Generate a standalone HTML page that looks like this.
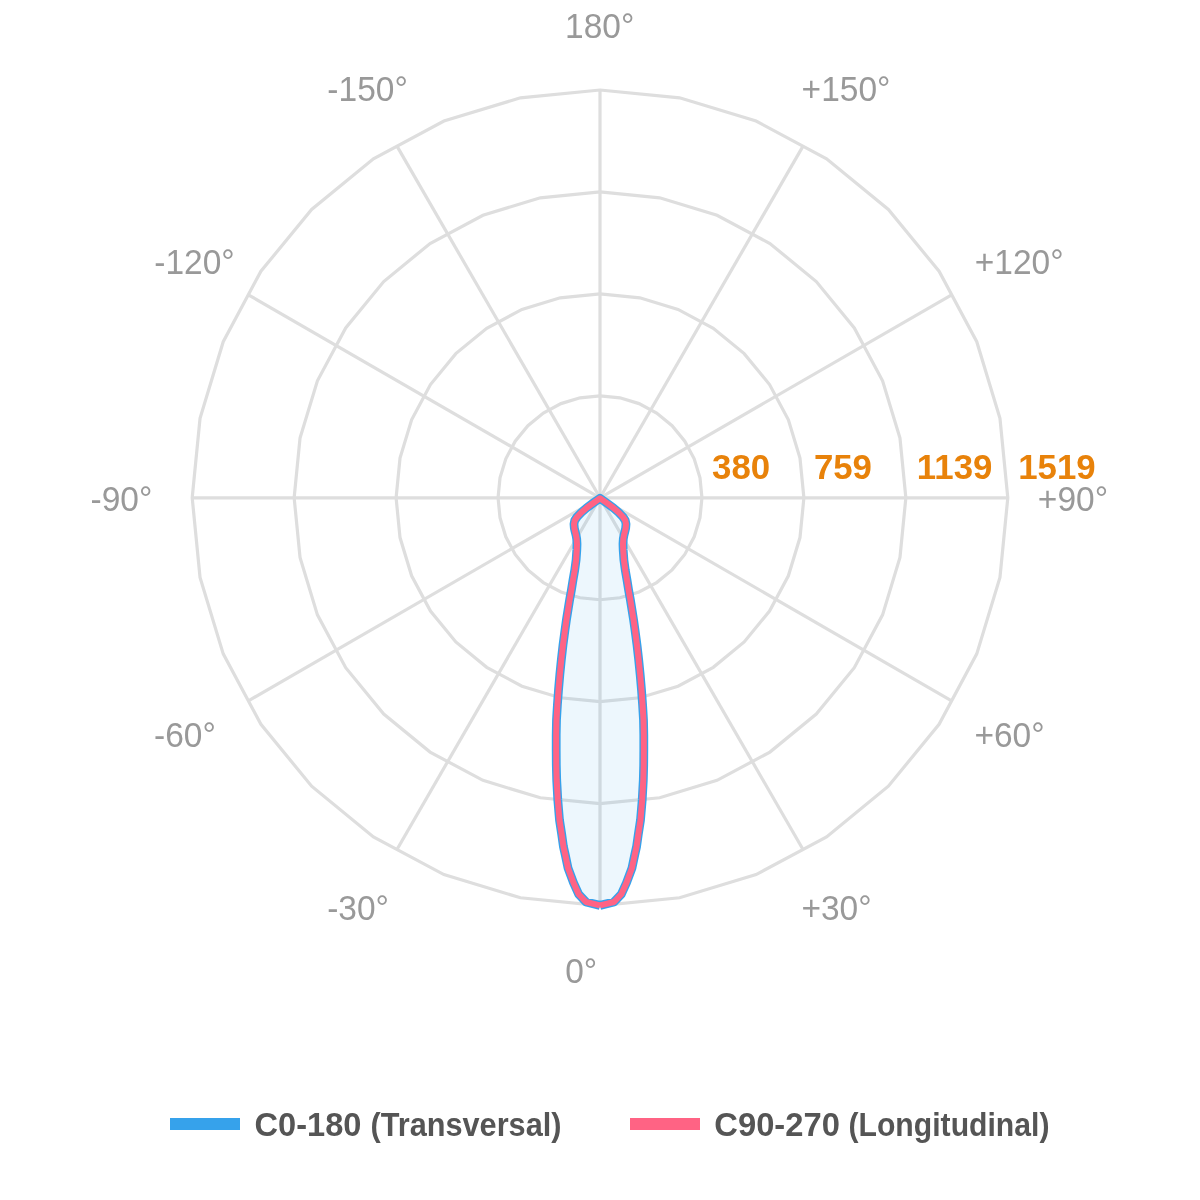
<!DOCTYPE html>
<html><head><meta charset="utf-8"><title>Polar chart</title>
<style>
html,body{margin:0;padding:0;background:#fff;}
body{width:1200px;height:1200px;overflow:hidden;}
svg{display:block;font-family:"Liberation Sans",sans-serif;}
#w{will-change:transform;width:1200px;height:1200px;}
</style></head><body><div id="w">
<svg width="1200" height="1200" viewBox="0 0 1200 1200">
<rect width="1200" height="1200" fill="#ffffff"/>
<polygon points="600.00,395.85 619.89,397.81 639.01,403.61 656.64,413.03 672.09,425.71 684.77,441.16 694.19,458.79 699.99,477.91 701.95,497.80 699.99,517.69 694.19,536.81 684.77,554.44 672.09,569.89 656.64,582.57 639.01,591.99 619.89,597.79 600.00,599.75 580.11,597.79 560.99,591.99 543.36,582.57 527.91,569.89 515.23,554.44 505.81,536.81 500.01,517.69 498.05,497.80 500.01,477.91 505.81,458.79 515.23,441.16 527.91,425.71 543.36,413.03 560.99,403.61 580.11,397.81" fill="none" stroke="#dedede" stroke-width="3.2" stroke-linejoin="miter"/>
<polygon points="600.00,293.90 639.78,297.82 678.03,309.42 713.28,328.26 744.18,353.62 769.54,384.52 788.38,419.77 799.98,458.02 803.90,497.80 799.98,537.58 788.38,575.83 769.54,611.08 744.18,641.98 713.28,667.34 678.03,686.18 639.78,697.78 600.00,701.70 560.22,697.78 521.97,686.18 486.72,667.34 455.82,641.98 430.46,611.08 411.62,575.83 400.02,537.58 396.10,497.80 400.02,458.02 411.62,419.77 430.46,384.52 455.82,353.62 486.72,328.26 521.97,309.42 560.22,297.82" fill="none" stroke="#dedede" stroke-width="3.2" stroke-linejoin="miter"/>
<polygon points="600.00,191.95 659.67,197.83 717.04,215.23 769.92,243.50 816.27,281.53 854.30,327.88 882.57,380.76 899.97,438.13 905.85,497.80 899.97,557.47 882.57,614.84 854.30,667.72 816.27,714.07 769.92,752.10 717.04,780.37 659.67,797.77 600.00,803.65 540.33,797.77 482.96,780.37 430.08,752.10 383.73,714.07 345.70,667.72 317.43,614.84 300.03,557.47 294.15,497.80 300.03,438.13 317.43,380.76 345.70,327.88 383.73,281.53 430.08,243.50 482.96,215.23 540.33,197.83" fill="none" stroke="#dedede" stroke-width="3.2" stroke-linejoin="miter"/>
<polygon points="600.00,90.00 679.56,97.84 756.06,121.04 826.56,158.73 888.36,209.44 939.07,271.24 976.76,341.74 999.96,418.24 1007.80,497.80 999.96,577.36 976.76,653.86 939.07,724.36 888.36,786.16 826.56,836.87 756.06,874.56 679.56,897.76 600.00,905.60 520.44,897.76 443.94,874.56 373.44,836.87 311.64,786.16 260.93,724.36 223.24,653.86 200.04,577.36 192.20,497.80 200.04,418.24 223.24,341.74 260.93,271.24 311.64,209.44 373.44,158.73 443.94,121.04 520.44,97.84" fill="none" stroke="#dedede" stroke-width="3.2" stroke-linejoin="miter"/>
<line x1="600.00" y1="497.80" x2="600.00" y2="90.00" stroke="#dedede" stroke-width="3.2"/>
<line x1="600.00" y1="497.80" x2="803.03" y2="146.15" stroke="#dedede" stroke-width="3.2"/>
<line x1="600.00" y1="497.80" x2="951.65" y2="294.77" stroke="#dedede" stroke-width="3.2"/>
<line x1="600.00" y1="497.80" x2="1007.80" y2="497.80" stroke="#dedede" stroke-width="3.2"/>
<line x1="600.00" y1="497.80" x2="951.65" y2="700.83" stroke="#dedede" stroke-width="3.2"/>
<line x1="600.00" y1="497.80" x2="803.03" y2="849.45" stroke="#dedede" stroke-width="3.2"/>
<line x1="600.00" y1="497.80" x2="600.00" y2="905.60" stroke="#dedede" stroke-width="3.2"/>
<line x1="600.00" y1="497.80" x2="396.97" y2="849.45" stroke="#dedede" stroke-width="3.2"/>
<line x1="600.00" y1="497.80" x2="248.35" y2="700.83" stroke="#dedede" stroke-width="3.2"/>
<line x1="600.00" y1="497.80" x2="192.20" y2="497.80" stroke="#dedede" stroke-width="3.2"/>
<line x1="600.00" y1="497.80" x2="248.35" y2="294.77" stroke="#dedede" stroke-width="3.2"/>
<line x1="600.00" y1="497.80" x2="396.97" y2="146.15" stroke="#dedede" stroke-width="3.2"/>
<path d="M600.00,905.40 L614.00,902.00 L621.30,894.30 L626.50,882.70 L631.90,868.30 L634.70,855.00 L636.60,846.50 L638.20,835.00 L640.50,820.00 L642.20,800.00 L643.30,780.00 L643.70,765.00 L643.80,750.00 L643.80,735.00 L643.50,720.00 L642.60,705.00 L641.50,690.00 L640.20,675.00 L638.70,660.00 L637.00,645.00 L635.00,630.00 L633.60,620.00 L632.00,610.00 L630.40,600.00 L628.60,590.00 L627.00,580.00 L625.25,570.00 L623.90,560.00 L623.20,550.00 L623.00,544.00 L623.30,539.00 L623.90,535.50 L624.90,531.50 L625.70,528.00 L626.00,524.00 L625.30,520.50 L623.00,517.00 L618.70,512.50 L613.50,508.00 L607.00,503.20 L600.00,498.25 L593.00,503.20 L586.50,508.00 L581.30,512.50 L577.00,517.00 L574.70,520.50 L574.00,524.00 L574.30,528.00 L575.10,531.50 L576.10,535.50 L576.70,539.00 L577.00,544.00 L576.80,550.00 L576.10,560.00 L574.75,570.00 L573.00,580.00 L571.40,590.00 L569.60,600.00 L568.00,610.00 L566.40,620.00 L565.00,630.00 L563.00,645.00 L561.30,660.00 L559.80,675.00 L558.50,690.00 L557.40,705.00 L556.50,720.00 L556.20,735.00 L556.20,750.00 L556.30,765.00 L556.70,780.00 L557.80,800.00 L559.50,820.00 L561.80,835.00 L563.40,846.50 L565.30,855.00 L568.10,868.30 L573.50,882.70 L578.70,894.30 L586.00,902.00 L600.00,905.40Z" fill="rgba(54,162,235,0.09)" stroke="none"/>
<path d="M600.00,905.40 L614.00,902.00 L621.30,894.30 L626.50,882.70 L631.90,868.30 L634.70,855.00 L636.60,846.50 L638.20,835.00 L640.50,820.00 L642.20,800.00 L643.30,780.00 L643.70,765.00 L643.80,750.00 L643.80,735.00 L643.50,720.00 L642.60,705.00 L641.50,690.00 L640.20,675.00 L638.70,660.00 L637.00,645.00 L635.00,630.00 L633.60,620.00 L632.00,610.00 L630.40,600.00 L628.60,590.00 L627.00,580.00 L625.25,570.00 L623.90,560.00 L623.20,550.00 L623.00,544.00 L623.30,539.00 L623.90,535.50 L624.90,531.50 L625.70,528.00 L626.00,524.00 L625.30,520.50 L623.00,517.00 L618.70,512.50 L613.50,508.00 L607.00,503.20 L600.00,498.25 L593.00,503.20 L586.50,508.00 L581.30,512.50 L577.00,517.00 L574.70,520.50 L574.00,524.00 L574.30,528.00 L575.10,531.50 L576.10,535.50 L576.70,539.00 L577.00,544.00 L576.80,550.00 L576.10,560.00 L574.75,570.00 L573.00,580.00 L571.40,590.00 L569.60,600.00 L568.00,610.00 L566.40,620.00 L565.00,630.00 L563.00,645.00 L561.30,660.00 L559.80,675.00 L558.50,690.00 L557.40,705.00 L556.50,720.00 L556.20,735.00 L556.20,750.00 L556.30,765.00 L556.70,780.00 L557.80,800.00 L559.50,820.00 L561.80,835.00 L563.40,846.50 L565.30,855.00 L568.10,868.30 L573.50,882.70 L578.70,894.30 L586.00,902.00 L600.00,905.40" fill="none" stroke="#36a2eb" stroke-width="8.8" stroke-linejoin="round" stroke-linecap="butt"/>
<path d="M600.00,905.40 L614.00,902.00 L621.30,894.30 L626.50,882.70 L631.90,868.30 L634.70,855.00 L636.60,846.50 L638.20,835.00 L640.50,820.00 L642.20,800.00 L643.30,780.00 L643.70,765.00 L643.80,750.00 L643.80,735.00 L643.50,720.00 L642.60,705.00 L641.50,690.00 L640.20,675.00 L638.70,660.00 L637.00,645.00 L635.00,630.00 L633.60,620.00 L632.00,610.00 L630.40,600.00 L628.60,590.00 L627.00,580.00 L625.25,570.00 L623.90,560.00 L623.20,550.00 L623.00,544.00 L623.30,539.00 L623.90,535.50 L624.90,531.50 L625.70,528.00 L626.00,524.00 L625.30,520.50 L623.00,517.00 L618.70,512.50 L613.50,508.00 L607.00,503.20 L600.00,498.25 L593.00,503.20 L586.50,508.00 L581.30,512.50 L577.00,517.00 L574.70,520.50 L574.00,524.00 L574.30,528.00 L575.10,531.50 L576.10,535.50 L576.70,539.00 L577.00,544.00 L576.80,550.00 L576.10,560.00 L574.75,570.00 L573.00,580.00 L571.40,590.00 L569.60,600.00 L568.00,610.00 L566.40,620.00 L565.00,630.00 L563.00,645.00 L561.30,660.00 L559.80,675.00 L558.50,690.00 L557.40,705.00 L556.50,720.00 L556.20,735.00 L556.20,750.00 L556.30,765.00 L556.70,780.00 L557.80,800.00 L559.50,820.00 L561.80,835.00 L563.40,846.50 L565.30,855.00 L568.10,868.30 L573.50,882.70 L578.70,894.30 L586.00,902.00 L600.00,905.40" fill="none" stroke="#ff6384" stroke-width="6" stroke-linejoin="round" stroke-linecap="butt"/>
<text transform="translate(565.12,37.65) scale(0.9682,1)" font-size="34.60" fill="#999999">180°</text>
<text transform="translate(327.36,100.85) scale(0.9682,1)" font-size="34.60" fill="#999999">-150°</text>
<text transform="translate(801.59,100.85) scale(0.9682,1)" font-size="34.60" fill="#999999">+150°</text>
<text transform="translate(154.31,274.15) scale(0.9682,1)" font-size="34.60" fill="#999999">-120°</text>
<text transform="translate(974.79,274.15) scale(0.9682,1)" font-size="34.60" fill="#999999">+120°</text>
<text transform="translate(90.55,510.85) scale(0.9682,1)" font-size="34.60" fill="#999999">-90°</text>
<text transform="translate(1037.83,510.55) scale(0.9682,1)" font-size="34.60" fill="#999999">+90°</text>
<text transform="translate(154.00,746.85) scale(0.9682,1)" font-size="34.60" fill="#999999">-60°</text>
<text transform="translate(974.38,746.85) scale(0.9682,1)" font-size="34.60" fill="#999999">+60°</text>
<text transform="translate(327.20,919.75) scale(0.9682,1)" font-size="34.60" fill="#999999">-30°</text>
<text transform="translate(801.38,919.75) scale(0.9682,1)" font-size="34.60" fill="#999999">+30°</text>
<text transform="translate(565.19,983.45) scale(0.9682,1)" font-size="34.60" fill="#999999">0°</text>
<text transform="translate(712.09,479.25) scale(0.9748,1)" font-size="35.70" font-weight="bold" fill="#e8820a">380</text>
<text transform="translate(813.90,479.34) scale(0.9748,1)" font-size="35.70" font-weight="bold" fill="#e8820a">759</text>
<text transform="translate(916.86,479.25) scale(0.9748,1)" font-size="35.70" font-weight="bold" fill="#e8820a">1139</text>
<text transform="translate(1018.20,479.34) scale(0.9748,1)" font-size="35.70" font-weight="bold" fill="#e8820a">1519</text>
<rect x="170" y="1118" width="70" height="12" fill="#36a2eb"/>
<rect x="630" y="1118" width="70" height="12" fill="#ff6384"/>
<text transform="translate(254.60,1135.6) scale(0.9875,1)" font-size="33.00" font-weight="bold" fill="#555555">C0-180</text>
<text transform="translate(370.57,1135.6) scale(0.9291,1)" font-size="33.00" font-weight="bold" fill="#555555">(Transversal)</text>
<text transform="translate(714.29,1135.6) scale(0.9926,1)" font-size="33.00" font-weight="bold" fill="#555555">C90-270</text>
<text transform="translate(848.49,1135.6) scale(0.9139,1)" font-size="33.00" font-weight="bold" fill="#555555">(Longitudinal)</text>
</svg>
</div></body></html>
